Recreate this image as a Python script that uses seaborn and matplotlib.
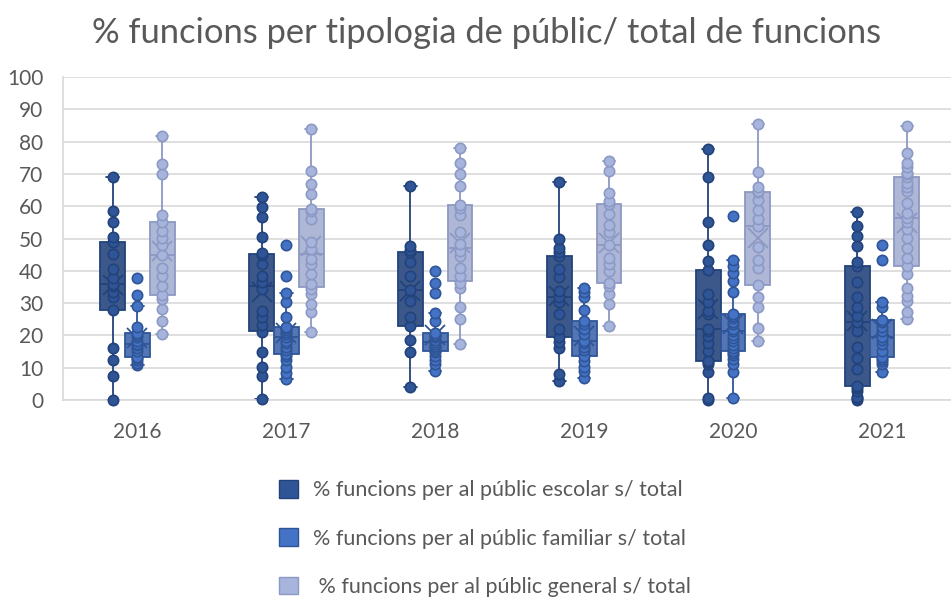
import matplotlib
matplotlib.use("Agg")
import matplotlib.pyplot as plt
from matplotlib.patches import Patch
import pandas as pd
import seaborn as sns

years = ["2016", "2017", "2018", "2019", "2020", "2021"]
series_names = [
    "% funcions per al públic escolar s/ total",
    "% funcions per al públic familiar s/ total",
    " % funcions per al públic general s/ total",
]

# one list of values per year, for each series
escolar = [
    [0, 7.5, 12.4, 16, 28, 31.8, 33.3, 35.4, 36, 37.9, 40.6, 45.2, 49, 50.5, 55, 58.6, 69],
    [0.3, 7.5, 10.1, 15, 20.9, 23.3, 25.6, 27.6, 34.3, 36.4, 38.5, 42, 44.8, 45.5, 50.6, 56.8, 59.8, 62.7],
    [4.1, 15, 18.7, 23, 25.6, 30.7, 34, 38.5, 42.6, 45.7, 46.5, 47.7, 66.3],
    [6, 8.2, 16, 18, 19.4, 22, 26.6, 30.2, 32, 33.8, 38, 40.5, 44.6, 45.9, 47.2, 49.8, 67.5],
    [0, 0.5, 8.6, 11.1, 11.8, 12.2, 15.3, 17.5, 19.9, 21.4, 22, 26.6, 27.6, 30.2, 32.8, 40.3,
     42.9, 47.9, 55.2, 68.9, 77.6],
    [0, 0.5, 1, 2.9, 3.8, 4.2, 9.6, 13, 16.3, 21.4, 24, 26, 28.7, 31.8, 36.4, 41.5,
     42.6, 47.7, 50.8, 53.9, 58.2],
]
familiar = [
    [10.8, 11.5, 12.5, 13, 13.4, 15.3, 16.2, 17, 17.3, 18.2, 19.4, 20, 20.7, 22.5, 29, 32.6, 37.9],
    [6.5, 8.5, 10.3, 12.5, 13.5, 14.2, 15.5, 16.3, 17.5, 18.4, 19.4, 20.4, 21, 21.8, 22.2, 22.5,
     25.6, 30.2, 33.1, 38.5, 48],
    [8.9, 11, 12.5, 13.7, 14.8, 15.3, 15.8, 16.3, 16.8, 17.3, 18, 18.7, 19.4, 19.8, 20.2, 20.7,
     24.5, 26.8, 33, 36.2, 39.8],
    [6.8, 9.1, 10.1, 12.2, 13.7, 15.5, 16.3, 17.5, 18.4, 20.4, 22, 23.5, 24.5, 27.9, 31.8, 33.5, 34.8],
    [0.5, 8.6, 11, 12.7, 14, 14.5, 15.3, 16.2, 17, 18.4, 19.2, 20, 21.4, 22, 23.5, 24.2, 25.5, 26,
     26.6, 33.3, 36.9, 39.2, 41.5, 43.4, 57],
    [8.6, 11.1, 12, 12.8, 13.4, 15.1, 17.3, 18.5, 19.5, 21.4, 22.5, 24, 24.7, 28.7, 30.2, 43.4, 48],
]
general = [
    [20.4, 24.5, 28.1, 31.2, 32.5, 35.4, 38.5, 41, 45, 48, 50.3, 52.4, 55, 57.2, 69.9, 73, 81.8],
    [20.9, 27.3, 29.7, 32.8, 34.5, 35.9, 39, 42, 43.6, 46.7, 48.8, 56, 58.4, 59.2, 63.7, 66.8, 70.9, 83.8],
    [17.3, 25.1, 28.9, 34.8, 36.1, 38.5, 41, 44.6, 46, 48.2, 52, 57.2, 59.6, 60.5, 66.3, 69.9, 73.5, 77.9],
    [23, 29.7, 32.8, 35.4, 36.1, 40, 42, 44.1, 48, 52, 54.1, 57.5, 60.6, 61.6, 64.2, 70.9, 74],
    [18.4, 22.3, 28.7, 32, 35.6, 41, 43.3, 47.4, 53.9, 56, 58.8, 61.9, 64.4, 64.7, 66, 70.6, 85.4],
    [25.1, 27.1, 30.5, 32.3, 34.8, 39, 41.5, 44, 47, 50.3, 52.9, 55, 56.5, 58, 61.1, 64.7, 66, 67.3,
     69.1, 70, 70.4, 72, 73.5, 76.6, 84.8],
]

fill_colors = ["#2F5597", "#4472C4", "#A7B4DC"]
edge_colors = ["#22427A", "#2F5597", "#8C99C4"]


def build_frame():
    rows = []
    for name, values in zip(series_names, [escolar, familiar, general]):
        for year, vals in zip(years, values):
            for v in vals:
                rows.append({"any": year, "serie": name, "valor": v})
    return pd.DataFrame(rows)


def main():
    df = build_frame()

    sns.set_theme(style="white")
    plt.rcParams["font.family"] = ["Lato", "DejaVu Sans"]

    fig = plt.figure(figsize=(9.51, 5.98), dpi=100)
    ax = fig.add_axes([0.0662, 0.3311, 0.9395, 0.5401])

    box_width = 0.5
    sns.boxplot(
        data=df, x="any", y="valor", hue="serie",
        order=years, hue_order=series_names,
        palette=fill_colors, width=box_width, gap=0,
        whis=1.5, showfliers=False, showmeans=True,
        meanprops={"marker": "x", "markersize": 14, "markeredgewidth": 1.3},
        linewidth=1.3, legend=False, ax=ax,
    )

    for cont, col in zip(ax.containers, edge_colors):
        for b in cont.boxes:
            b.set_edgecolor(col)
        for ln in list(cont.whiskers) + list(cont.caps) + list(cont.medians):
            ln.set_color(col)
        for m in cont.means:
            m.set_markeredgecolor(col)
            m.set_color(col)

    # points on top of every box
    step = box_width / len(series_names)
    for k, (values, fc, ec) in enumerate(zip([escolar, familiar, general], fill_colors, edge_colors)):
        offset = (k - 1) * step
        for i, vals in enumerate(values):
            ax.scatter([i + offset] * len(vals), vals, s=55, facecolor=fc,
                       edgecolor=ec, linewidth=1.2, zorder=5, clip_on=False)

    ax.set_ylim(0, 100)
    ax.set_xlim(-0.5, len(years) - 0.5)
    ax.set_yticks(range(0, 101, 10))
    ax.yaxis.grid(True, color="#D9D9D9", linewidth=1.2)
    ax.set_axisbelow(True)
    ax.set_xlabel("")
    ax.set_ylabel("")
    for side in ["top", "right"]:
        ax.spines[side].set_visible(False)
    for side in ["left", "bottom"]:
        ax.spines[side].set_color("#D9D9D9")
        ax.spines[side].set_linewidth(1.2)
    ax.tick_params(axis="y", labelsize=15, labelcolor="#595959", length=0, pad=14)
    ax.tick_params(axis="x", labelsize=15, labelcolor="#595959", length=0, pad=16)

    fig.text(0.512, 0.945, "% funcions per tipologia de públic/ total de funcions",
             ha="center", va="center", fontsize=24.8, color="#595959")

    handles = [Patch(facecolor=fc, edgecolor=ec, linewidth=1)
               for fc, ec in zip(fill_colors, edge_colors)]
    fig.legend(handles, series_names, loc="upper center", bbox_to_anchor=(0.51, 0.23),
               frameon=False, ncol=1, fontsize=15.5, labelcolor="#595959",
               labelspacing=1.3, handlelength=0.9, handleheight=0.9, handletextpad=0.7)

    fig.savefig("out.png", dpi=100)


if __name__ == "__main__":
    main()
